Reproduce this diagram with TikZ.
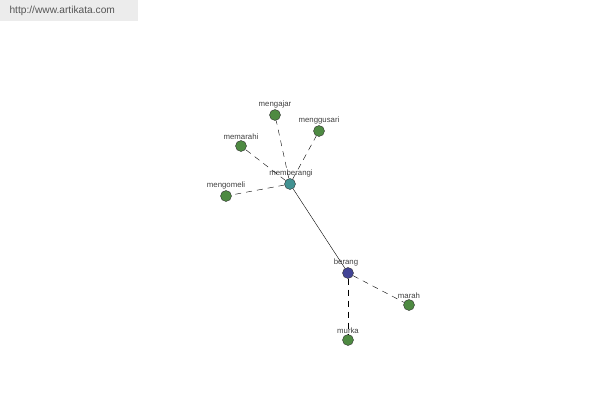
\documentclass[tikz,border=0pt]{standalone}
\usepackage{fontspec}
\setmainfont{Liberation Sans}
\usetikzlibrary{positioning}

\definecolor{wgre}{RGB}{78, 138, 66}
\definecolor{wtea}{RGB}{66, 146, 146}
\definecolor{wblu}{RGB}{66, 68, 150}
\definecolor{wbox}{RGB}{236, 236, 236}
\definecolor{wtxt}{RGB}{85, 85, 85}

\begin{document}
\begin{tikzpicture}[x=1pt, y=-1pt,
		word/.style={circle, draw=black!80, fill=wgre, minimum size=11pt, inner sep=0pt},
		lbl/.style={font=\fontsize{7.8}{8}\selectfont, text=black!75, inner sep=0.5pt},
		syn/.style={dash pattern=on 6pt off 5pt, black}]
			\useasboundingbox (0,0) rectangle (600,400);

			% --- Site banner ---
			\fill[wbox] (0,0) rectangle (138,21);
			\node[font=\fontsize{10.2}{12}\selectfont, text=wtxt, anchor=west] (site) at (6,11) {http://www.artikata.com};

			% --- Word nodes ---
			\node[word, fill=wtea] (memberangi) at (290,184) {};
			\node[word, fill=wblu] (berang) at (348,273) {};
			\node[word] (mengajar) at (275,115) {};
			\node[word] (menggusari) at (319,131) {};
			\node[word] (memarahi) at (241,146) {};
			\node[word] (mengomeli) at (226,196) {};
			\node[word] (marah) at (409,305) {};
			\node[word] (murka) at (348,340) {};

			% Labels above each node
			\node[lbl, above=0pt of memberangi, xshift=1pt] (t-memberangi) {memberangi};
			\node[lbl, above=0pt of berang, xshift=-2pt] (t-berang) {berang};
			\node[lbl, above=0pt of mengajar] (t-mengajar) {mengajar};
			\node[lbl, above=0pt of menggusari] (t-menggusari) {menggusari};
			\node[lbl, above=0pt of memarahi] (t-memarahi) {memarahi};
			\node[lbl, above=0pt of mengomeli] (t-mengomeli) {mengomeli};
			\node[lbl, above=0pt of marah] (t-marah) {marah};
			\node[lbl, above=0pt of murka] (t-murka) {murka};

			% --- Links ---
			\draw[black] (memberangi) -- (berang);
			\foreach \w in {mengajar, menggusari, memarahi, mengomeli}
				\draw[syn] (memberangi) -- (\w);
			\draw[syn] (berang) -- (marah);
			\draw[syn] (berang) -- (murka);

		\end{tikzpicture}
\end{document}
